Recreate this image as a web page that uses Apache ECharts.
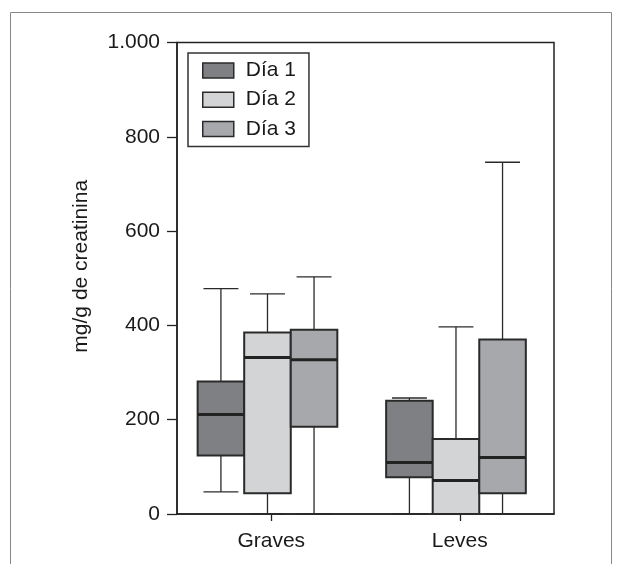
<!DOCTYPE html>
<html>
<head>
<meta charset="utf-8">
<script src="https://cdn.jsdelivr.net/npm/echarts@6/dist/echarts.min.js"></script>
<style>html,body{margin:0;padding:0;background:#fff}#c{width:617px;height:564px}</style>
</head>
<body>
<div id="c"></div>
<script>
// Categories and tick labels
const categories = ['Graves', 'Leves'];
const seriesNames = ['Día 1', 'Día 2', 'Día 3'];
const yTicks = [0, 200, 400, 600, 800, 1000];
const yTickLabels = ['0', '200', '400', '600', '800', '1.000'];
// Box data per day: [categoryIndex, min, q1, median, q3, max]
const dia1 = [[0, 47, 124, 211, 281, 478], [1, 0, 78, 109, 240, 246]];
const dia2 = [[0, 0, 44, 332, 385, 467], [1, 0, 0, 71, 159, 397]];
const dia3 = [[0, 0, 185, 327, 391, 503], [1, 0, 44, 120, 370, 746]];

const fills = ['#7f8083', '#d3d4d6', '#a7a8ab'];
const offsets = [-0.267, -0.02, 0.227];
const boxFrac = 0.247;
const capFrac = 0.75;
const FONT = 'Liberation Sans, Arial, sans-serif';

function makeRender(si) {
  return function (params, api) {
    const cat = api.value(0);
    const band = api.size([1, 0])[0];
    const base = api.coord([cat, 0]);
    const cx = base[0] + band * offsets[si];
    const w = band * boxFrac;
    const cw = w * capFrac;
    const y = v => api.coord([cat, v])[1];
    const vmin = y(api.value(1)), q1 = y(api.value(2)), med = y(api.value(3)), q3 = y(api.value(4)), vmax = y(api.value(5));
    const lineStyle = { stroke: '#2a2a2a', lineWidth: 1.3 };
    return {
      type: 'group',
      children: [
        { type: 'line', shape: { x1: cx, y1: q3, x2: cx, y2: vmax }, style: lineStyle },
        { type: 'line', shape: { x1: cx - cw / 2, y1: vmax, x2: cx + cw / 2, y2: vmax }, style: lineStyle },
        { type: 'line', shape: { x1: cx, y1: q1, x2: cx, y2: vmin }, style: lineStyle },
        { type: 'line', shape: { x1: cx - cw / 2, y1: vmin, x2: cx + cw / 2, y2: vmin }, style: lineStyle },
        { type: 'rect', shape: { x: cx - w / 2, y: q3, width: w, height: q1 - q3 },
          style: { fill: fills[si], stroke: '#2a2a2a', lineWidth: 2 } },
        { type: 'line', shape: { x1: cx - w / 2, y1: med, x2: cx + w / 2, y2: med },
          style: { stroke: '#222', lineWidth: 3 } }
      ]
    };
  };
}

const allData = [dia1, dia2, dia3];
const chart = echarts.init(document.getElementById('c'), null, { renderer: 'canvas' });
chart.setOption({
  animation: false,
  backgroundColor: '#fff',
  graphic: [{
    type: 'rect', left: 8, top: 10, z: -10,
    shape: { x: 0, y: 0, width: 601, height: 600 },
    style: { fill: 'none', stroke: '#888', lineWidth: 1 }
  }],
  grid: { left: 177, right: 63, top: 42.5, bottom: 50, show: true, borderColor: '#222', borderWidth: 1.5, backgroundColor: 'transparent' },
  legend: {
    orient: 'vertical', left: 188, top: 53,
    padding: [7, 13, 7, 14],
    itemGap: 8.2, itemWidth: 31, itemHeight: 15,
    borderColor: '#333', borderWidth: 1.5, borderRadius: 0,
    textStyle: { fontFamily: FONT, fontSize: 21, color: '#1a1a1a', lineHeight: 21, padding: [0, 0, 0, 7] },
    data: seriesNames.map((n, i) => ({ name: n, icon: 'rect', itemStyle: { color: fills[i], borderColor: '#2a2a2a', borderWidth: 1.5 } }))
  },
  xAxis: {
    type: 'category', data: categories,
    axisLine: { lineStyle: { color: '#222', width: 1.5 } },
    axisTick: { show: true, alignWithLabel: true, length: 7, lineStyle: { color: '#222', width: 1.3 } },
    axisLabel: { fontFamily: FONT, fontSize: 21, color: '#1a1a1a', margin: 17 },
    splitLine: { show: false }
  },
  yAxis: {
    type: 'value', min: 0, max: 1000, interval: 200,
    name: 'mg/g de creatinina', nameLocation: 'middle', nameGap: 85,
    nameTextStyle: { fontFamily: FONT, fontSize: 21, color: '#1a1a1a', padding: [0, 0, 0, 24] },
    axisLine: { show: true, lineStyle: { color: '#222', width: 1.5 } },
    axisTick: { show: true, length: 10, lineStyle: { color: '#222', width: 1.3 } },
    axisLabel: { fontFamily: FONT, fontSize: 21, color: '#1a1a1a', margin: 17,
      formatter: v => yTickLabels[yTicks.indexOf(v)] },
    splitLine: { show: false }
  },
  series: seriesNames.map((n, i) => ({
    name: n, type: 'custom', renderItem: makeRender(i),
    itemStyle: { color: fills[i] },
    encode: { x: 0, y: [1, 2, 3, 4, 5] },
    data: allData[i],
    clip: false
  }))
});
</script>
</body>
</html>
